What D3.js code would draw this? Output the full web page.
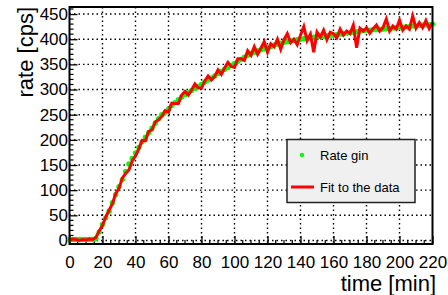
<!DOCTYPE html>
<html>
<head>
<meta charset="utf-8">
<script src="https://cdn.jsdelivr.net/npm/d3@7"></script>
<style>
  body { margin: 0; background: #fff; }
  text { font-family: "Liberation Sans", Arial, sans-serif; fill: #000; }
</style>
</head>
<body>
<div id="chart"></div>
<script>

// time axis, one reading every 2 minutes (0 .. 220)
var times = d3.range(0, 221, 2);

// green points: "Rate gin"
var rateGin = [
  2,2,2,2,2,2,2,2,4,17,
  32,45,58,75,91,107,121,137,152,163,
  174,185,196,205,214,223,233,242,250,255,
  261,268,274,280,285,290,294,298,302,306,
  310,315,319,323,327,332,336,340,344,348,
  352,356,360,364,368,372,374,377,379,381,
  383,385,388,390,392,394,395,397,398,399,
  400,401,402,403,404,405,406,406,407,408,
  408,409,410,411,412,413,414,415,416,417,
  418,418,419,419,420,420,421,421,422,423,
  424,424,425,425,426,426,427,428,428,429,
  430
];

// red line: "Fit to the data"
var fitData = [
  1,3,2,0,2,1,3,2,6,19,
  30,47,60,73,93,104,124,133,140,158,
  168,182,199,198,217,220,236,240,247,258,
  255,273,272,272,289,296,289,299,311,303,
  303,317,327,319,326,339,330,343,354,346,
  344,361,361,358,377,368,385,370,382,395,
  374,391,385,400,380,399,411,393,400,389,
  408,425,397,410,374,414,404,418,399,414,
  411,403,420,408,416,411,428,383,422,416,
  423,412,421,428,416,423,440,416,426,420,
  438,418,426,420,446,422,433,423,437,421,
  433
];

var xTicks = [0,20,40,60,80,100,120,140,160,180,200,220];
var yTicks = [0,50,100,150,200,250,300,350,400,450];
var legendLabels = ["Rate gin", "Fit to the data"];

function chart(){

  var width = 448, height = 295;
  var left = 69.5, right = 432.5, top = 7, bottom = 244;

  var svg = d3.select("#chart")
    .append("svg")
    .attr("width", width)
    .attr("height", height);

  var x = d3.scaleLinear().domain([0, 220]).range([left, right]);
  var y = d3.scaleLinear().domain([-7, 464]).range([bottom, top]);

  // dotted grid
  svg.append("g").selectAll("line")
    .data(xTicks.slice(1, -1))
    .enter().append("line")
    .attr("x1", function(d){ return x(d); })
    .attr("x2", function(d){ return x(d); })
    .attr("y1", top).attr("y2", bottom)
    .attr("stroke", "#000")
    .attr("stroke-width", 1.4)
    .attr("stroke-dasharray", "1.5,3");

  svg.append("g").selectAll("line")
    .data(yTicks)
    .enter().append("line")
    .attr("y1", function(d){ return y(d); })
    .attr("y2", function(d){ return y(d); })
    .attr("x1", left).attr("x2", right)
    .attr("stroke", "#000")
    .attr("stroke-width", 1.4)
    .attr("stroke-dasharray", "1.5,3");

  // axes, ticks pointing inward
  var xAxis = d3.axisBottom(x).tickValues(xTicks).tickSizeInner(-8).tickSizeOuter(0).tickPadding(12);
  var yAxis = d3.axisLeft(y).tickValues(yTicks).tickSizeInner(-8).tickSizeOuter(0).tickPadding(10);

  var gx = svg.append("g")
    .attr("transform", "translate(0," + bottom + ")")
    .call(xAxis);
  var gy = svg.append("g")
    .attr("transform", "translate(" + left + ",0)")
    .call(yAxis);

  [gx, gy].forEach(function(g){
    g.select(".domain").remove();
    g.selectAll("line").attr("stroke", "#000").attr("stroke-width", 1.3);
    g.selectAll("text")
      .style("font-family", "Liberation Sans, Arial, sans-serif")
      .style("font-size", "17px")
      .attr("fill", "#000");
  });
  gy.selectAll("text").attr("x", -1.5);

  // minor ticks
  svg.append("g").selectAll("line")
    .data(d3.range(0, 221, 5).filter(function(d){ return d % 20 != 0; }))
    .enter().append("line")
    .attr("x1", function(d){ return x(d); })
    .attr("x2", function(d){ return x(d); })
    .attr("y1", bottom).attr("y2", bottom - 4)
    .attr("stroke", "#000").attr("stroke-width", 1.2);

  svg.append("g").selectAll("line")
    .data(d3.range(-0, 461, 10).filter(function(d){ return d % 50 != 0; }))
    .enter().append("line")
    .attr("y1", function(d){ return y(d); })
    .attr("y2", function(d){ return y(d); })
    .attr("x1", left).attr("x2", left + 4)
    .attr("stroke", "#000").attr("stroke-width", 1.2);

  // data
  var pts = times.map(function(t, i){ return {t: t, g: rateGin[i], f: fitData[i]}; });

  svg.append("g").selectAll("circle")
    .data(pts)
    .enter().append("circle")
    .attr("cx", function(d){ return x(d.t); })
    .attr("cy", function(d){ return y(d.g); })
    .attr("r", 2.7)
    .attr("fill", "#00ff00");

  var line = d3.line()
    .x(function(d){ return x(d.t); })
    .y(function(d){ return y(d.f); });

  svg.append("path")
    .datum(pts)
    .attr("d", line)
    .attr("fill", "none")
    .attr("stroke", "#ff0000")
    .attr("stroke-width", 3)
    .attr("stroke-linejoin", "miter");

  // frame
  svg.append("rect")
    .attr("x", left).attr("y", top)
    .attr("width", right - left).attr("height", bottom - top)
    .attr("fill", "none")
    .attr("stroke", "#000")
    .attr("stroke-width", 2);

  // axis titles
  svg.append("text")
    .attr("x", 436).attr("y", 291)
    .attr("text-anchor", "end")
    .style("font-size", "22px")
    .text("time [min]");

  svg.append("text")
    .attr("transform", "translate(33,7) rotate(-90)")
    .attr("text-anchor", "end")
    .style("font-size", "22px")
    .text("rate [cps]");

  // legend
  var lg = svg.append("g");
  lg.append("rect")
    .attr("x", 287).attr("y", 139.5)
    .attr("width", 128).attr("height", 63)
    .attr("fill", "#f0f0f0")
    .attr("stroke", "#222")
    .attr("stroke-width", 1.5);

  lg.append("circle")
    .attr("cx", 302).attr("cy", 155)
    .attr("r", 2.2)
    .attr("fill", "#00ff00");

  lg.append("line")
    .attr("x1", 291).attr("x2", 314)
    .attr("y1", 187).attr("y2", 187)
    .attr("stroke", "#ff0000")
    .attr("stroke-width", 3);

  lg.selectAll("text.lab")
    .data(legendLabels)
    .enter().append("text")
    .attr("class", "lab")
    .attr("x", 320)
    .attr("y", function(d, i){ return 160 + i * 32; })
    .style("font-size", "13px")
    .text(function(d){ return d; });
}

chart();

</script>
</body>
</html>
